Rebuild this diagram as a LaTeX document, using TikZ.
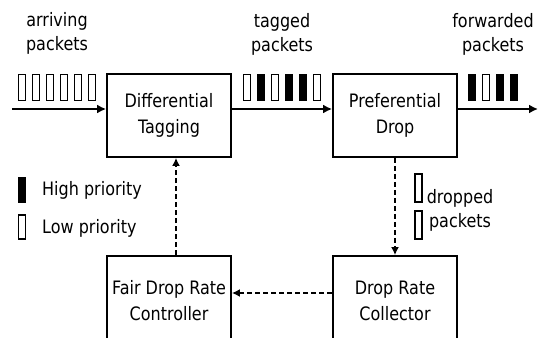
\documentclass[tikz,border=0pt]{standalone}
\usepackage{fontspec}
\setmainfont{DejaVu Sans}[FakeStretch=0.865]
\usepackage{tikz}
\usetikzlibrary{arrows.meta}
\tikzset{
    blockbox/.style = {
        align=center,
        text centered,
        rectangle,
        draw=black,
        line width=1.8pt,
        minimum width=124pt,
        minimum height=83pt,
        inner sep=0pt,
        font=\fontsize{18.5}{26}\selectfont
    },
    lowblockbox/.style = {
        blockbox,
        minimum height=90pt
    },
    pkt lo/.style = {
        rectangle,
        draw=black,
        fill=white,
        line width=1.2pt,
        minimum width=7pt,
        minimum height=26pt,
        inner sep=0pt
    },
    pkt hi/.style = {
        pkt lo,
        fill=black
    },
    label/.style = {
        align=center,
        inner sep=0pt,
        font=\fontsize{18.5}{24}\selectfont
    },
    flow/.style = {
        line width=2.2pt,
        -{Latex[length=9pt,width=9pt]}
    },
    feedback/.style = {
        line width=1.8pt,
        dash pattern=on 5pt off 3pt,
        -{Latex[length=8pt,width=8pt]}
    }
}

\begin{document}
\begin{tikzpicture}[x=1pt,y=-1pt]
    \useasboundingbox (0,0) rectangle (540,337);

    \node [blockbox] (tag) at (169,115.5) {Differential\\Tagging};
    \node [blockbox] (drop) at (395,115.5) {Preferential\\Drop};
    \node [lowblockbox] (ctrl) at (169,301) {Fair Drop Rate\\Controller};
    \node [lowblockbox] (collect) at (395,301) {Drop Rate\\Collector};

    \coordinate (src) at (12,109);
    \coordinate (sink) at (538,109);
    \draw [flow] (src) -- (src -| tag.west);
    \draw [flow] (tag.east |- src) -- (drop.west |- src);
    \draw [flow] (drop.east |- sink) -- (sink);

    \draw [feedback] (drop.south) -- (collect.north);
    \draw [feedback] ([yshift=8pt]collect.west) -- ([yshift=8pt]ctrl.east);
    \draw [feedback] ([xshift=7pt]ctrl.north) -- ([xshift=7pt]tag.south);

    \foreach \i in {0,...,5}
        \node [pkt lo] (arr\i) at (22+14*\i,87.5) {};
    \foreach \s [count=\i from 0] in {lo,hi,lo,hi,hi,lo}
        \node [pkt \s] (tg\i) at (247+14*\i,87.5) {};
    \foreach \s [count=\i from 0] in {hi,lo,hi,hi}
        \node [pkt \s] (fwd\i) at (472+14*\i,87.5) {};
    \node [pkt lo, minimum height=28pt] (drp0) at (418.5,188) {};
    \node [pkt lo, minimum height=28pt] (drp1) at (418.5,225) {};

    \node [label, anchor=base] (arrlbl) at (57,50) {arriving\\packets};
    \node [label, anchor=base] (tglbl) at (282,52) {tagged\\packets};
    \node [label, anchor=base] (fwdlbl) at (493,52) {forwarded\\packets};
    \node [label, anchor=base] (drplbl) at (460,227) {dropped\\packets};

    \node [pkt hi, minimum height=24pt] (keyhi) at (22,190) {};
    \node [pkt lo, minimum height=24pt] (keylo) at (22,227) {};
    \node [label, anchor=base west] (keyhilbl) at (42,195) {High priority};
    \node [label, anchor=base west] (keylolbl) at (42,233) {Low priority};
\end{tikzpicture}
\end{document}
